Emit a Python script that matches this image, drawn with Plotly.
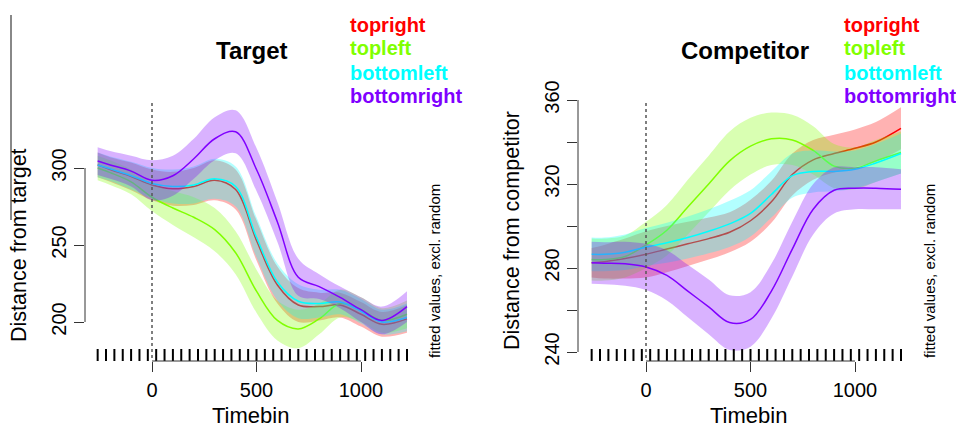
import plotly.graph_objects as go

W, H = 956, 429

# ---------------- data ----------------
timebin = [-260, -200, -100, 0, 100, 200, 300, 400, 500, 600, 700, 800, 900, 1000, 1100, 1220]
series_names = ["topright", "topleft", "bottomleft", "bottomright"]
series_colors = ["#FF0000", "#80FF00", "#00FFFF", "#8000FF"]

# Target panel: fitted values and CI half-widths
target_topright = [302, 299, 294.5, 289, 286.5, 288, 292, 286, 253, 224, 211, 210, 211, 205, 198.5, 202]
target_topright_ci = [8, 8, 9, 10, 11, 12, 13, 13, 13, 12, 11, 9, 8, 8, 8, 9]
target_topleft = [300, 297, 291, 281, 274, 268, 260, 245, 220, 201, 195.5, 202, 212, 208, 201, 205]
target_topleft_ci = [8, 8, 8, 9, 11, 13, 14, 14, 14, 13, 12.5, 10, 9, 8, 8, 9]
target_bottomleft = [302, 299.5, 295, 290, 288, 289, 293, 288, 255, 226, 213.5, 212, 213, 207, 200, 203]
target_bottomleft_ci = [8, 8, 9, 10, 11, 12, 13, 13, 13, 12, 11, 9, 8, 8, 8, 9]
target_bottomright = [304.5, 302, 298, 292, 295, 306, 319, 323.5, 299, 265, 229, 223, 216, 208, 201, 210]
target_bottomright_ci = [9, 9, 10, 13, 13, 13, 14, 14, 14, 13, 12, 8, 7, 8, 9, 10]

# Competitor panel
comp_topright = [282.5, 283, 284.5, 286.5, 289, 291.5, 294, 297, 302.5, 311.5, 324.5, 331.5, 334.5, 337, 340, 346.5]
comp_topright_ci = [7, 8, 9.5, 11, 11, 10.5, 10, 9.5, 10, 10, 10, 9.5, 9, 9, 9.5, 10]
comp_topleft = [284, 284, 285.5, 291, 298, 309, 320, 331, 338, 341.5, 341, 336, 328.5, 327.5, 331, 335]
comp_topleft_ci = [10, 10, 10, 11, 12, 13, 13.5, 14, 13.5, 12.5, 12, 11.5, 10.5, 10, 10, 10]
comp_bottomleft = [286.5, 286.5, 287.5, 290, 292, 294.5, 297.5, 301, 306, 315, 324, 326, 326, 327, 330, 334.5]
comp_bottomleft_ci = [8, 8, 8.5, 9, 9.5, 10, 10.5, 11, 11, 11, 10.5, 10, 9.5, 9, 9, 9.5]
comp_bottomright = [282.5, 282.3, 282, 280.5, 276.5, 269, 261.5, 254, 255.5, 269, 289, 308, 317, 318, 318, 317.5]
comp_bottomright_ci = [10, 10, 10.5, 11, 12, 12.5, 13, 13, 13, 13, 13, 12, 11, 10, 10, 9.5]

rug_timebins = [-260, -220, -180, -140, -100, -60, -20, 20, 60, 100, 140, 180, 220, 260,
                300, 340, 380, 420, 460, 500, 540, 580, 620, 660, 700, 740, 780, 820,
                860, 900, 940, 980, 1020, 1060, 1100, 1140, 1180, 1220]

x_tickvals = [0, 500, 1000]
target_yticks = [200, 250, 300]
target_yticktext = ["200", "250", "300"]
comp_yticks = [240, 260, 280, 300, 320, 340, 360]
comp_yticktext = ["240", "", "280", "", "320", "", "360"]

panels = [
    dict(title="Target", ylab="Distance from target",
         fits=[target_topright, target_topleft, target_bottomleft, target_bottomright],
         cis=[target_topright_ci, target_topleft_ci, target_bottomleft_ci, target_bottomright_ci],
         yticks=target_yticks, yticktext=target_yticktext),
    dict(title="Competitor", ylab="Distance from competitor",
         fits=[comp_topright, comp_topleft, comp_bottomleft, comp_bottomright],
         cis=[comp_topright_ci, comp_topleft_ci, comp_bottomleft_ci, comp_bottomright_ci],
         yticks=comp_yticks, yticktext=comp_yticktext),
]

# ---------------- layout geometry (pixels) ----------------
FONT = "Liberation Sans, Arial, Helvetica, sans-serif"
dom_x = [(85, 420), (578, 913)]
dom_y_px = (98, 361)
x_ranges = [[(85 - 152) / 0.209, (420 - 152) / 0.209], [(578 - 646) / 0.209, (913 - 646) / 0.209]]
y_ranges = [[200 - (361 - 322) / 1.54, 200 + (322 - 98) / 1.54],
            [240 - (361 - 352) / 2.1, 240 + (352 - 98) / 2.1]]


def rgba(hexc, a):
    h = hexc.lstrip("#")
    return "rgba(%d,%d,%d,%.2f)" % (int(h[0:2], 16), int(h[2:4], 16), int(h[4:6], 16), a)


fig = go.Figure()
shapes = []
annotations = []

for p, panel in enumerate(panels):
    xa = "x" if p == 0 else "x2"
    ya = "y" if p == 0 else "y2"
    for name, col, fit, ci in zip(series_names, series_colors, panel["fits"], panel["cis"]):
        lower = [f - c for f, c in zip(fit, ci)]
        upper = [f + c for f, c in zip(fit, ci)]
        fig.add_trace(go.Scatter(x=timebin, y=lower, mode="lines", xaxis=xa, yaxis=ya,
                                 line=dict(width=0, shape="spline", color=col),
                                 showlegend=False, hoverinfo="skip"))
        fig.add_trace(go.Scatter(x=timebin, y=upper, mode="lines", xaxis=xa, yaxis=ya,
                                 fill="tonexty", fillcolor=rgba(col, 0.30),
                                 line=dict(width=0, shape="spline", color=col),
                                 showlegend=False, hoverinfo="skip"))
        fig.add_trace(go.Scatter(x=timebin, y=fit, mode="lines", xaxis=xa, yaxis=ya,
                                 line=dict(width=1.5, shape="spline", color=col),
                                 name=name, showlegend=False))
    # rug
    yr = y_ranges[p]
    rug_y = yr[0] + (yr[1] - yr[0]) * (361 - 356) / (361 - 98)
    fig.add_trace(go.Scatter(x=rug_timebins, y=[rug_y] * len(rug_timebins), mode="markers",
                             xaxis=xa, yaxis=ya,
                             marker=dict(symbol="line-ns", size=10, line=dict(width=2, color="black")),
                             showlegend=False, hoverinfo="skip"))

    # R-style axis lines spanning the ticks
    shapes.append(dict(type="line", xref=xa, yref=ya + " domain", x0=min(x_tickvals), x1=max(x_tickvals),
                       y0=0, y1=0, line=dict(color="#333", width=1)))
    shapes.append(dict(type="line", xref=xa + " domain", yref=ya, x0=0, x1=0,
                       y0=min(panel["yticks"]), y1=max(panel["yticks"]), line=dict(color="#333", width=1)))
    # dotted line at 0
    shapes.append(dict(type="line", xref=xa, yref="paper", x0=0, x1=0,
                       y0=1 - 358 / H, y1=1 - 102 / H, line=dict(color="#555", width=1.5, dash="dot")))

    cx = [252, 745][p]
    annotations.append(dict(text="<b>%s</b>" % panel["title"], x=cx / W, y=1 - 50 / H, xref="paper", yref="paper",
                            showarrow=False, xanchor="center", yanchor="middle",
                            font=dict(family=FONT, size=24, color="black")))
    lx = [348, 842][p]
    for k, (name, col) in enumerate(zip(series_names, series_colors)):
        annotations.append(dict(text="<b>%s</b>" % name, x=lx / W, y=1 - [24.5, 48, 72.5, 96][k] / H,
                                xref="paper", yref="paper", showarrow=False, xanchor="left", yanchor="middle",
                                font=dict(family=FONT, size=20, color=col)))
    annotations.append(dict(text="Timebin", x=[251, 748][p] / W, y=1 - 415 / H, xref="paper", yref="paper",
                            showarrow=False, xanchor="center", yanchor="middle",
                            font=dict(family=FONT, size=22, color="black")))
    annotations.append(dict(text=panel["ylab"], x=[19, 512][p] / W, y=1 - [245, 230][p] / H,
                            xref="paper", yref="paper", textangle=-90,
                            showarrow=False, xanchor="center", yanchor="middle",
                            font=dict(family=FONT, size=21.5, color="black")))
    annotations.append(dict(text="fitted values, excl. random", x=[434, 929][p] / W, y=1 - 271 / H,
                            xref="paper", yref="paper", textangle=-90,
                            showarrow=False, xanchor="center", yanchor="middle",
                            font=dict(family=FONT, size=15, color="black")))

# stray vertical line at the far left
shapes.append(dict(type="line", xref="paper", yref="paper", x0=11 / W, x1=11 / W, y0=1 - 220 / H, y1=1 - 15 / H,
                   line=dict(color="#888", width=2)))

xaxis_common = dict(tickvals=x_tickvals, ticks="outside", ticklen=10, tickwidth=1, tickcolor="#333",
                    showline=False, showgrid=False, zeroline=False, automargin=False,
                    tickfont=dict(family=FONT, size=20, color="black"), ticklabelstandoff=1)
yaxis_common = dict(ticks="outside", ticklen=10, tickwidth=1, tickcolor="#333", tickangle=-90,
                    showline=False, showgrid=False, zeroline=False, automargin=False,
                    tickfont=dict(family=FONT, size=20, color="black"))

ydom = [1 - dom_y_px[1] / H, 1 - dom_y_px[0] / H]
fig.update_layout(
    width=W, height=H, margin=dict(l=0, r=0, t=0, b=0, autoexpand=False),
    paper_bgcolor="white", plot_bgcolor="white", showlegend=False,
    xaxis=dict(domain=[dom_x[0][0] / W, dom_x[0][1] / W], range=x_ranges[0], anchor="y", **xaxis_common),
    xaxis2=dict(domain=[dom_x[1][0] / W, dom_x[1][1] / W], range=x_ranges[1], anchor="y2", **xaxis_common),
    yaxis=dict(domain=ydom, range=y_ranges[0], anchor="x", tickvals=panels[0]["yticks"],
               ticktext=panels[0]["yticktext"], **yaxis_common),
    yaxis2=dict(domain=ydom, range=y_ranges[1], anchor="x2", tickvals=panels[1]["yticks"],
                ticktext=panels[1]["yticktext"], **yaxis_common),
    shapes=shapes, annotations=annotations,
)

fig.write_html("out.html", config={"displayModeBar": False},
               post_script="document.body.style.margin='0';document.body.style.overflow='hidden';")
